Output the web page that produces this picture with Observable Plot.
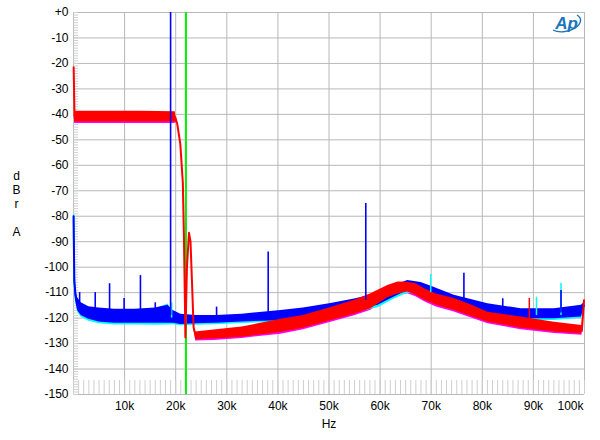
<!DOCTYPE html>
<html>
<head>
<meta charset="utf-8">
<script src="https://cdn.jsdelivr.net/npm/d3@7"></script>
<script src="https://cdn.jsdelivr.net/npm/@observablehq/plot@0.6"></script>
<style>
  html, body { margin: 0; padding: 0; background: #fff; }
</style>
</head>
<body>
<div id="chart"></div>
<script>
// ---------- axis ticks ----------
const gridHz = [0, 10000, 20000, 30000, 40000, 50000, 60000, 70000, 80000, 90000, 100000];
const xTicks = [10000, 20000, 30000, 40000, 50000, 60000, 70000, 80000, 90000];
const xTickLabels = ["10k", "20k", "30k", "40k", "50k", "60k", "70k", "80k", "90k"];
const xLastTick = [100000];
const xLastLabel = ["100k"];
const yTicks = [0, -10, -20, -30, -40, -50, -60, -70, -80, -90, -100, -110, -120, -130, -140, -150];
const yTickLabels = ["+0", "-10", "-20", "-30", "-40", "-50", "-60", "-70", "-80", "-90", "-100", "-110", "-120", "-130", "-140", "-150"];

// ---------- red trace (band top / bottom, dBr) ----------
const redHz = [30, 200, 3000, 8000, 13000, 19900, 20300, 20900, 21400, 21600, 21800, 21900, 22200, 22600, 22900, 23200, 23500, 23900, 27500, 33000, 40600, 45000, 50400, 55000, 58200, 61500, 63500, 65400, 67000, 68700, 71000, 74500, 78000, 81100, 87600, 94100, 99500, 99900];
const redTop = [-21.5, -38.8, -38.8, -38.8, -38.8, -39, -43.7, -51.6, -67, -87, -113, -127.6, -100, -86.5, -90, -106.5, -123.6, -125.5, -124.7, -123.5, -120.5, -119, -115.8, -113, -110.4, -107.2, -105.8, -105.9, -106.5, -108.5, -110.5, -112.3, -115, -117.7, -119.6, -121.6, -122.9, -113];
const redBottom = [-21.5, -43, -43, -43, -43, -43, -43.7, -51.6, -67, -87, -113, -127.6, -100, -86.5, -90, -106.5, -123.6, -128.5, -128.2, -127.5, -125.7, -124, -121, -118.5, -116.3, -112, -110.5, -109.8, -111, -113, -115, -117, -119.5, -121.6, -124, -125.5, -126.2, -113];

// ---------- magenta trace (mostly hidden under red), passband and stopband ----------
const magLowHz = [200, 3000, 8000, 13000, 19900];
const magLowTop = [-39.5, -39.5, -39.5, -39.5, -39.5];
const magLowBottom = [-43.6, -43.6, -43.6, -43.6, -43.6];
const magHighHz = [23900, 27500, 33000, 40600, 45000, 50400, 55000, 58200, 61500, 63500, 65400, 67000, 68700, 71000, 74500, 78000, 81100, 87600, 94100, 99500];
const magHighTop = [-126, -125.5, -124.5, -121.5, -120, -117, -114.5, -112, -108.5, -107, -107, -107.5, -109.5, -111.5, -113.5, -116, -118.5, -120.5, -122.5, -123.5];
const magHighBottom = [-129, -128.8, -128, -126.3, -124.6, -121.6, -119.1, -116.9, -112.6, -111.1, -110.4, -111.6, -113.6, -115.6, -117.6, -120.1, -122.2, -124.6, -126, -126.7];

// ---------- blue trace ----------
const blueHz = [20, 150, 400, 800, 1500, 3000, 5000, 8000, 12000, 16000, 18500, 19500, 21000, 24000, 28000, 33000, 40600, 45000, 50400, 55000, 59600, 62500, 65400, 68000, 70000, 74500, 81100, 87600, 94100, 99400, 99900];
const blueTop = [-80, -104, -109, -112, -114, -115.5, -116, -116.5, -116.5, -116, -115, -117, -118.5, -119, -119, -118.5, -117, -116, -114.3, -112.5, -110.3, -107.5, -105.2, -106, -107.5, -111, -114.4, -116.3, -116.3, -115, -114];
const blueBottom = [-80, -106, -113, -117, -119, -120.5, -121.5, -122, -122, -122, -122, -122, -122.5, -122.2, -122, -121.5, -121, -120, -119, -117, -115, -112, -109.2, -110, -111.5, -115, -118.3, -120.3, -120.3, -119.6, -116];

// ---------- cyan trace (mostly hidden under blue) ----------
const cyanHz = [20, 150, 400, 800, 1500, 3000, 5000, 8000, 12000, 16000, 18500, 19500, 21000, 24000, 28000, 33000, 40600, 45000, 50400, 55000, 59600, 62500, 65400, 68000, 70000, 74500, 81100, 87600, 94100, 99400, 99900];
const cyanTop = [-79.5, -104.5, -110, -113, -115, -116.5, -117, -117.5, -117.5, -116.5, -114.5, -118, -119.5, -120, -120, -119.5, -118, -117, -115.5, -114, -112, -109, -107, -107.5, -108.5, -112, -115.5, -117.5, -117.5, -116.5, -115];
const cyanBottom = [-80, -106.5, -113.6, -117.7, -119.7, -121.2, -122.2, -122.7, -122.7, -122.8, -122.7, -122.6, -123, -122.8, -122.6, -122.1, -121.6, -120.8, -119.9, -117.9, -115.9, -112.8, -110.2, -110.8, -112.3, -115.8, -119, -120.9, -120.9, -120.2, -116.6];

// ---------- spikes ----------
const blueSpikeHz = [1200, 4250, 7060, 9900, 13100, 16000, 19000, 28000, 38100, 57200, 76400, 84000, 95400];
const blueSpikeTop = [-110, -110, -106.5, -112.3, -103.3, -114, 0, -115.7, -94, -75, -102.4, -112.4, -109.2];
const blueSpikeBase = [-116, -118, -119, -119, -119, -119, -119, -120.5, -119, -113, -113, -117, -118];
const cyanSpikeHz = [19200, 69900, 90600, 95400];
const cyanSpikeTop = [-114, -102.9, -111.8, -106.3];
const cyanSpikeBase = [-120, -110, -119, -119];
const redSpikeHz = [89200];
const redSpikeTop = [-112.3];
const redSpikeBase = [-121];

// ---------- green marker ----------
const greenHz = [22000];

// ---------- build tables ----------
const band = (hz, top, bottom) => hz.map((h, i) => ({hz: h, top: top[i], bottom: bottom[i], mid: (top[i] + bottom[i]) / 2}));
const spikes = (hz, top, base) => hz.map((h, i) => ({hz: h, top: top[i], base: base[i]}));

const red = band(redHz, redTop, redBottom);
const magLow = band(magLowHz, magLowTop, magLowBottom);
const magHigh = band(magHighHz, magHighTop, magHighBottom);
const blue = band(blueHz, blueTop, blueBottom);
const cyan = band(cyanHz, cyanTop, cyanBottom);

const RED = "#ff0000", MAG = "#ff00ff", BLUE = "#0000ff", CYAN = "#00ffff", GREEN = "#00ee00";
const GRID = "#b8b8b8", MINOR = "#cfcfcf";

const trace = (data, color) => [
  Plot.areaY(data, {x: "hz", y1: "bottom", y2: "top", fill: color}),
  Plot.line(data, {x: "hz", y: "mid", stroke: color, strokeWidth: 2})
];

const chart = Plot.plot({
  width: 600,
  height: 440,
  marginLeft: 73,
  marginRight: 16,
  marginTop: 12,
  marginBottom: 46,
  style: {fontFamily: "'Liberation Sans', Arial, sans-serif", fontSize: "12px", background: "#fff", color: "#000"},
  x: {domain: [0, 100000], label: null},
  y: {domain: [-150, 0], label: null},
  marks: [
    Plot.gridX(gridHz, {stroke: GRID, strokeOpacity: 1}),
    Plot.gridY(yTicks, {stroke: GRID, strokeOpacity: 1}),
    // minor ticks inside the frame
    Plot.axisY(d3.range(-150, 1, 1), {tickSize: -5, stroke: MINOR, fill: "none", label: null}),
    Plot.axisX(d3.range(0, 100001, 1000), {tickSize: -14, stroke: MINOR, fill: "none", label: null}),
    // traces
    ...trace(magLow, MAG),
    ...trace(magHigh, MAG),
    ...trace(cyan, CYAN),
    ...trace(blue, BLUE),
    Plot.ruleX(greenHz, {stroke: GREEN, strokeWidth: 2}),
    ...trace(red, RED),
    Plot.ruleX(spikes(redSpikeHz, redSpikeTop, redSpikeBase), {x: "hz", y1: "base", y2: "top", stroke: RED, strokeWidth: 1.5}),
    Plot.ruleX(spikes(cyanSpikeHz, cyanSpikeTop, cyanSpikeBase), {x: "hz", y1: "base", y2: "top", stroke: CYAN, strokeWidth: 1.5}),
    Plot.ruleX(spikes(blueSpikeHz, blueSpikeTop, blueSpikeBase), {x: "hz", y1: "base", y2: "top", stroke: BLUE, strokeWidth: 1.6}),
    // axes
    Plot.axisY(yTicks, {tickSize: 0, tickPadding: 5, label: null, fontSize: 12,
      tickFormat: d => yTickLabels[yTicks.indexOf(d)]}),
    Plot.axisX(xTicks, {tickSize: 0, tickPadding: 7, label: null, fontSize: 12,
      tickFormat: d => xTickLabels[xTicks.indexOf(d)]}),
    Plot.axisX(xLastTick, {tickSize: 0, tickPadding: 7, label: null, fontSize: 12, textAnchor: "end", dx: -1,
      tickFormat: d => xLastLabel[xLastTick.indexOf(d)]}),
    // titles
    Plot.text(["Hz"], {frameAnchor: "bottom", dy: 30, fontSize: 12, lineAnchor: "middle"}),
    Plot.text(["d\nB\nr\n\nA"], {frameAnchor: "left", dx: -57, fontSize: 12, lineHeight: 1.17, textAnchor: "middle", lineAnchor: "middle"}),
    Plot.text(["Ap"], {frameAnchor: "top-right", dx: -18, dy: 11, fontSize: 17, fontStyle: "italic", fontWeight: "bold", fill: "#1d75bc", textAnchor: "middle", lineAnchor: "middle"})
  ]
});

document.getElementById("chart").appendChild(chart);

// Logo swoosh
d3.select(chart).append("path")
  .attr("d", "M553,30 A14,8 -12 1 0 577,15")
  .attr("fill", "none")
  .attr("stroke", "#1d75bc")
  .attr("stroke-width", 1.4);
</script>
</body>
</html>
